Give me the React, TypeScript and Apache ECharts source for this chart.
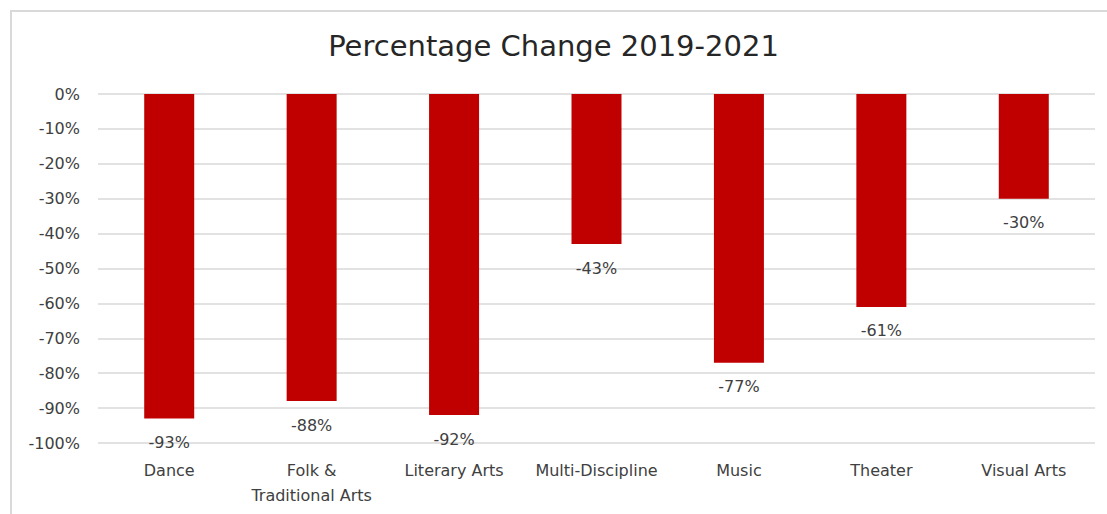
import React, { useEffect, useRef } from "react";
import * as echarts from "echarts";

const categories = [
  "Dance",
  "Folk &\nTraditional Arts",
  "Literary Arts",
  "Multi-Discipline",
  "Music",
  "Theater",
  "Visual Arts",
];
const changeValues = [-93, -88, -92, -43, -77, -61, -30];
const yMin = -100;
const yMax = 0;
const yStep = 10;

const FONT = "'DejaVu Sans', sans-serif";

export default function App() {
  const ref = useRef<HTMLDivElement>(null);
  useEffect(() => {
    if (!ref.current) return;
    const chart = echarts.init(ref.current, undefined, { renderer: "svg" });
    chart.setOption({
      animation: false,
      backgroundColor: "#ffffff",
      title: {
        text: "Percentage Change 2019-2021",
        left: "center",
        top: 31,
        padding: [0, 0, 0, 18],
        textStyle: { fontFamily: FONT, fontSize: 29, fontWeight: "normal", color: "#262626" },
      },
      graphic: [
        {
          type: "rect",
          shape: { x: 11, y: 11, width: 1300, height: 700 },
          style: { fill: "none", stroke: "#d9d9d9", lineWidth: 2 },
          silent: true,
        },
      ],
      grid: { left: 98, right: 12, top: 94, bottom: 71, containLabel: false },
      xAxis: {
        type: "category",
        data: categories,
        axisLine: { show: false },
        axisTick: { show: false },
        axisLabel: {
          fontFamily: FONT,
          fontSize: 16,
          color: "#404040",
          margin: 15,
          lineHeight: 25,
          interval: 0,
        },
      },
      yAxis: {
        type: "value",
        min: yMin,
        max: yMax,
        interval: yStep,
        axisLine: { show: false },
        axisTick: { show: false },
        splitLine: { lineStyle: { color: "#d9d9d9", width: 1.5 } },
        axisLabel: {
          fontFamily: FONT,
          fontSize: 16,
          color: "#404040",
          margin: 18,
          formatter: "{value}%",
        },
      },
      series: [
        {
          type: "bar",
          data: changeValues,
          barWidth: 50,
          itemStyle: { color: "#c00000" },
          label: {
            show: true,
            position: "outside",
            distance: 16,
            fontFamily: FONT,
            fontSize: 16,
            color: "#404040",
            formatter: "{c}%",
          },
        },
      ],
    });
    return () => chart.dispose();
  }, []);
  return (
    <div
      ref={ref}
      style={{ position: "fixed", left: 0, top: 0, width: 1107, height: 514 }}
    />
  );
}
